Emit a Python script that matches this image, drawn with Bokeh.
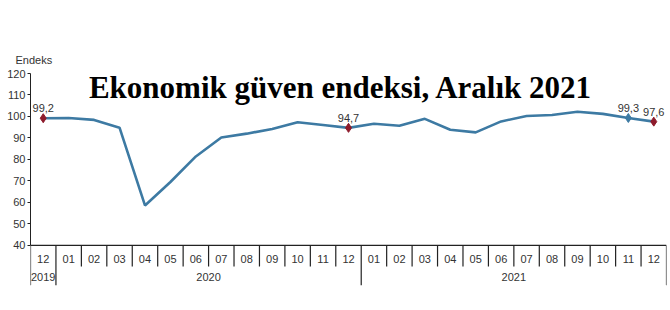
from bokeh.plotting import figure
from bokeh.models import Range1d, FixedTicker, Label
from bokeh.core.properties import value
from bokeh.embed import file_html
from bokeh.resources import INLINE

# ---- data ----
months = ["12", "01", "02", "03", "04", "05", "06", "07", "08", "09", "10", "11", "12",
          "01", "02", "03", "04", "05", "06", "07", "08", "09", "10", "11", "12"]
years = ["2019"] + ["2020"] * 12 + ["2021"] * 12
index_values = [99.2, 99.3, 98.4, 94.8, 58.6, 69.5, 81.4, 90.2, 92.0, 94.2, 97.3, 96.0, 94.7,
                96.6, 95.7, 98.9, 93.8, 92.6, 97.7, 100.2, 100.7, 102.2, 101.2, 99.3, 97.6]
labeled_idx = [0, 12, 23, 24]
red_idx = [0, 12, 24]
blue_idx = [23]
y_ticks = [40, 50, 60, 70, 80, 90, 100, 110, 120]
title_text = "Ekonomik güven endeksi, Aralık 2021"
y_title = "Endeks"

LINE = "#3D7AA3"
RED = "#8E1B2C"
TXT = "#333333"
AX = "#222222"
FONT = "Liberation Sans"

n = len(months)
x = list(range(n))
ymin, ymax = y_ticks[0], y_ticks[-1]

p = figure(frame_width=636, frame_height=217,
           min_border_left=30, min_border_right=4, min_border_top=73, min_border_bottom=20,
           x_range=Range1d(-0.5, n - 0.5), y_range=Range1d(19, ymax),
           x_axis_location=None, output_backend="svg", toolbar_location=None)
p.outline_line_color = None
p.xgrid.visible = False
p.ygrid.visible = False

# y axis
yax = p.yaxis[0]
yax.bounds = (ymin, ymax)
yax.ticker = FixedTicker(ticks=y_ticks)
yax.minor_tick_line_color = None
yax.major_tick_in = 0
yax.major_tick_out = 3
yax.major_label_standoff = 2
yax.axis_line_color = AX
yax.major_tick_line_color = AX
yax.major_label_text_font = FONT
yax.major_label_text_font_size = "11px"
yax.major_label_text_color = TXT

# "Endeks" label above the axis
p.title.text = y_title
p.title.align = "left"
p.title.offset = -15
p.title.standoff = 16
p.title.text_font = FONT
p.title.text_font_size = "11px"
p.title.text_font_style = "normal"
p.title.text_color = TXT

# category axis drawn from the data positions
group_bounds = [i - 0.5 for i in range(n) if i == 0 or years[i] != years[i - 1]] + [n - 0.5]
month_bounds = [i + 0.5 for i in range(n - 1) if (i + 0.5) not in group_bounds]
p.segment(x0=[-0.5], y0=[ymin], x1=[n - 0.5], y1=[ymin], line_color=AX, line_width=1.2)
p.segment(x0=month_bounds, y0=[ymin] * len(month_bounds), x1=month_bounds,
          y1=[30.2] * len(month_bounds), line_color=AX, line_width=1.2)
p.segment(x0=group_bounds, y0=[ymin] * len(group_bounds), x1=group_bounds,
          y1=[21.4] * len(group_bounds), line_color=AX, line_width=1.2)
p.text(x=x, y=[ymin] * n, text=months, y_offset=14, text_align="center",
       text_baseline="middle", text_font=value(FONT), text_font_size="11px", text_color=TXT)
uniq_years = []
for yv in years:
    if yv not in uniq_years:
        uniq_years.append(yv)
year_centers = [sum(i for i in range(n) if years[i] == yv) / years.count(yv) for yv in uniq_years]
p.text(x=year_centers, y=[ymin] * len(uniq_years), text=uniq_years, y_offset=32,
       text_align="center", text_baseline="middle", text_font=value(FONT),
       text_font_size="11px", text_color=TXT)

# series
p.line(x, index_values, line_color=LINE, line_width=2.6)
p.scatter([x[i] for i in red_idx], [index_values[i] for i in red_idx], marker="diamond",
          size=9, fill_color=RED, line_color=RED)
p.scatter([x[i] for i in blue_idx], [index_values[i] for i in blue_idx], marker="diamond",
          size=9, fill_color=LINE, line_color=LINE)
p.text(x=[x[i] for i in labeled_idx], y=[index_values[i] for i in labeled_idx],
       text=[f"{index_values[i]:.1f}".replace(".", ",") for i in labeled_idx],
       y_offset=-6, text_align="center", text_baseline="bottom",
       text_font=value(FONT), text_font_size="11px", text_color=TXT)

# main heading
p.add_layout(Label(x=11.7, y=113.5, text=title_text, text_align="center",
                   text_baseline="alphabetic", text_font="Liberation Serif",
                   text_font_style="bold", text_font_size="31px", text_color="#000000"))

open("out.html", "w").write(file_html(p, INLINE))
